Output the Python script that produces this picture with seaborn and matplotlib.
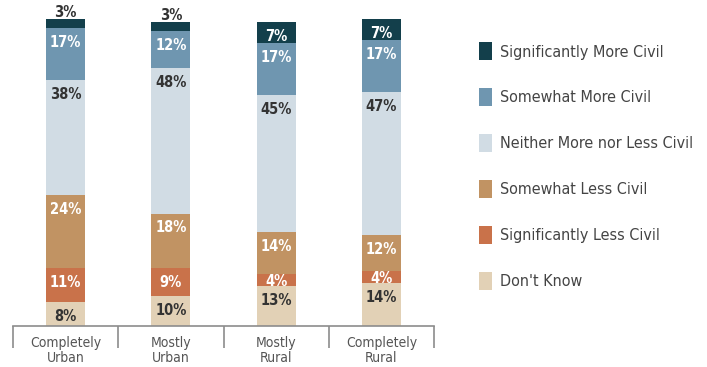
import matplotlib
matplotlib.use("Agg")
import matplotlib.pyplot as plt
import seaborn as sns
import numpy as np
from matplotlib.patches import Patch

sns.set_style("white")
plt.rcParams['font.family'] = ['DejaVu Sans']
plt.rcParams['font.stretch'] = 'condensed'

categories = ["Completely\nUrban", "Mostly\nUrban", "Mostly\nRural", "Completely\nRural"]
series_names = ["Don't Know", "Significantly Less Civil", "Somewhat Less Civil",
                "Neither More nor Less Civil", "Somewhat More Civil", "Significantly More Civil"]
dont_know = [8, 10, 13, 14]
sig_less = [11, 9, 4, 4]
some_less = [24, 18, 14, 12]
neither = [38, 48, 45, 47]
some_more = [17, 12, 17, 17]
sig_more = [3, 3, 7, 7]
series_values = [dont_know, sig_less, some_less, neither, some_more, sig_more]
colors = ["#e2d1b6", "#c9724a", "#c19363", "#d1dce4", "#6f96b0", "#133f4b"]
label_dark = [True, False, False, True, False, False]

W, H = 707, 367
fig = plt.figure(figsize=(W / 100, H / 100), dpi=100)
ax = fig.add_axes([13 / W, 41 / H, 421 / W, 307 / H])

bottom = np.zeros(len(categories))
for name, vals, col in zip(series_names, series_values, colors):
    sns.barplot(x=categories, y=vals, bottom=bottom, color=col, width=0.37,
                saturation=1, errorbar=None, order=categories, ax=ax, linewidth=0)
    bottom = bottom + np.array(vals)

# labels
bottom = np.zeros(len(categories))
for si, (vals, dark) in enumerate(zip(series_values, label_dark)):
    for i, v in enumerate(vals):
        top = bottom[i] + v
        col = "#333333" if dark else "white"
        if v <= 3 and si == len(series_values) - 1:
            ax.annotate(f"{v}%", (i, top), xytext=(0, -1), textcoords="offset points",
                        ha="center", va="bottom", fontsize=10.5, fontweight="bold",
                        color="#333333", annotation_clip=False)
        elif v <= 4:
            ax.annotate(f"{v}%", (i, bottom[i] + v / 2), xytext=(0, -1), textcoords="offset points",
                        ha="center", va="center", fontsize=10.5, fontweight="bold", color=col)
        else:
            ax.annotate(f"{v}%", (i, top), xytext=(0, -5), textcoords="offset points",
                        ha="center", va="top", fontsize=10.5, fontweight="bold", color=col)
        bottom[i] = top

ax.set_xlim(-0.5, 3.5)
ax.set_ylim(0, 101)
ax.set_xlabel("")
ax.set_ylabel("")
ax.set_yticks([])
for s in ["top", "left", "right"]:
    ax.spines[s].set_visible(False)
ax.spines["bottom"].set_color("#8c8c8c")
ax.spines["bottom"].set_linewidth(1.2)
ax.set_xticks(np.arange(-0.5, 4, 1))
ax.set_xticklabels([])
ax.tick_params(axis="x", which="major", bottom=True, length=16, width=1.2,
               color="#8c8c8c", direction="out")
ax.set_xticks(np.arange(len(categories)), minor=True)
ax.set_xticklabels(categories, minor=True, fontsize=10, color="#555555", linespacing=1.1)
ax.tick_params(axis="x", which="minor", bottom=True, length=0, pad=7)

handles = [Patch(facecolor=c, edgecolor="none") for c in colors[::-1]]
fig.legend(handles, series_names[::-1], loc="upper left",
           bbox_to_anchor=(479 / W, 1 - 42 / H), frameon=False, fontsize=11.5,
           handlelength=0.8, handleheight=1.4, handletextpad=0.5,
           labelspacing=1.72, borderpad=0, borderaxespad=0, labelcolor="#444444")

fig.savefig("out.png", dpi=100)
